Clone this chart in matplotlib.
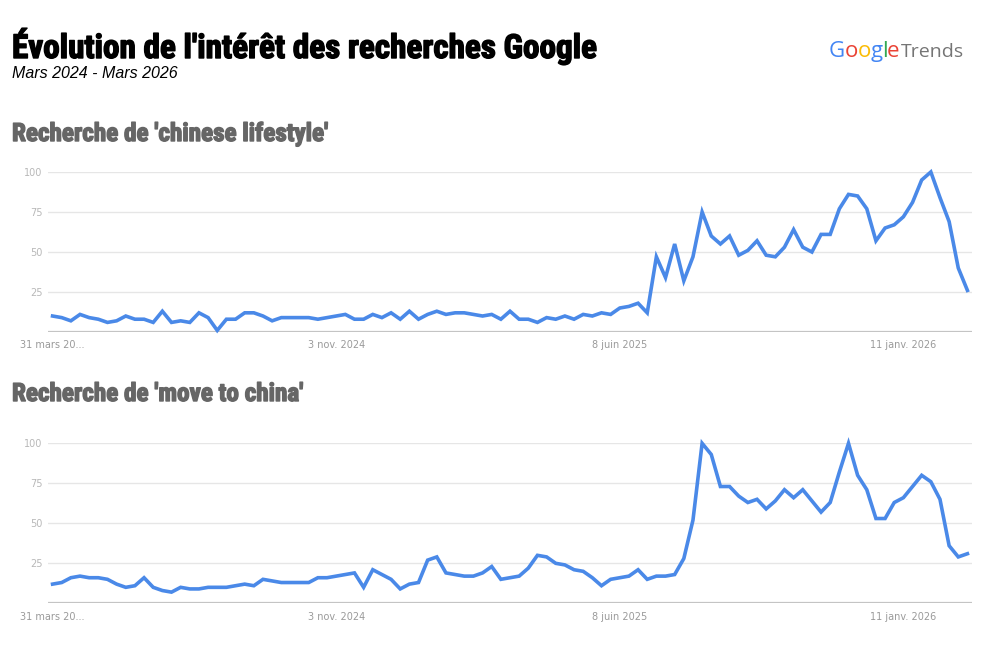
import numpy as np
import matplotlib.pyplot as plt
import matplotlib.patheffects as pe
from matplotlib import font_manager

# weekly values, 31 mars 2024 -> 1 mars 2026
lifestyle = [10, 9, 7, 11, 9, 8, 6, 7, 10, 8, 8, 6, 13, 6, 7, 6, 12, 9, 1, 8,
             8, 12, 12, 10, 7, 9, 9, 9, 9, 8, 9, 10, 11, 8, 8, 11, 9, 12, 8, 13,
             8, 11, 13, 11, 12, 12, 11, 10, 11, 8, 13, 8, 8, 6, 9, 8, 10, 8, 11, 10,
             12, 11, 15, 16, 18, 12, 47, 34, 55, 32, 47, 75, 60, 55, 60, 48, 51, 57, 48, 47,
             53, 64, 53, 50, 61, 61, 77, 86, 85, 77, 57, 65, 67, 72, 81, 95, 100, 84, 69, 40,
             26]
move_china = [12, 13, 16, 17, 16, 16, 15, 12, 10, 11, 16, 10, 8, 7, 10, 9, 9, 10, 10, 10,
              11, 12, 11, 15, 14, 13, 13, 13, 13, 16, 16, 17, 18, 19, 10, 21, 18, 15, 9, 12,
              13, 27, 29, 19, 18, 17, 17, 19, 23, 15, 16, 17, 22, 30, 29, 25, 24, 21, 20, 16,
              11, 15, 16, 17, 21, 15, 17, 17, 18, 28, 52, 100, 93, 73, 73, 67, 63, 65, 59, 64,
              71, 66, 71, 64, 57, 63, 82, 100, 80, 71, 53, 53, 63, 66, 73, 80, 76, 65, 36, 29,
              31]
tick_pos = [0, 31, 62, 93]
tick_labels = ["31 mars 20...", "3 nov. 2024", "8 juin 2025", "11 janv. 2026"]
y_ticks = [25, 50, 75, 100]

line_color = "#4a89e8"

# pick a condensed family if one is around
names = {f.name for f in font_manager.fontManager.ttflist}
cond = [n for n in ["Roboto Condensed", "DejaVu Sans Condensed",
                    "Liberation Sans Narrow", "Open Sans Condensed"] if n in names]


def heavy(col):
    return [pe.withStroke(linewidth=1.0, foreground=col)]


def draw_panel(ax, values):
    x = np.arange(len(values))
    for v in y_ticks:
        ax.axhline(v, color="#e6e6e6", lw=1, zorder=1)
    ax.axhline(0, color="#c4c4c4", lw=1.6, zorder=1)
    ax.plot(x, values, color=line_color, lw=2.6, solid_joinstyle="miter",
            zorder=3, clip_on=False)
    ax.set_xlim(-0.5, len(values) - 0.5)
    ax.set_ylim(0, 100)
    for s in ax.spines.values():
        s.set_visible(False)
    ax.set_yticks(y_ticks)
    ax.set_yticklabels([str(v) for v in y_ticks], color="#b8b8b8", fontsize=7)
    ax.set_xticks(tick_pos)
    ax.set_xticklabels(tick_labels, color="#9a9a9a", fontsize=7)
    ax.tick_params(length=0, pad=4)
    ax.tick_params(axis="x", pad=6)


fig = plt.figure(figsize=(10, 6.5), dpi=100)

ax1 = fig.add_axes([0.048, 0.4892, 0.924, 0.2462])
draw_panel(ax1, lifestyle)
ax2 = fig.add_axes([0.048, 0.0718, 0.924, 0.2462])
draw_panel(ax2, move_china)

if cond:
    title_font = dict(family=[cond[0], "DejaVu Sans"], weight="bold")
    big, mid = 23.9, 18.1
else:
    title_font = dict(family=["DejaVu Sans"], weight="bold")
    big, mid = 16.8, 12.5
fig.text(0.012, 1 - 58 / 650, "Évolution de l'intérêt des recherches Google",
         fontsize=big, color="black", va="baseline", path_effects=heavy("black"),
         **title_font)
fig.text(0.012, 1 - 78 / 650, "Mars 2024 - Mars 2026", fontsize=11.5,
         style="italic", color="black", va="baseline",
         family=["Liberation Sans", "DejaVu Sans"])
fig.text(0.012, 1 - 141 / 650, "Recherche de 'chinese lifestyle'", fontsize=mid,
         color="#666666", va="baseline", path_effects=heavy("#666666"), **title_font)
fig.text(0.012, 1 - 401 / 650, "Recherche de 'move to china'", fontsize=mid,
         color="#666666", va="baseline", path_effects=heavy("#666666"), **title_font)

# Google Trends logo, one coloured piece after another
logo = [("G", "#4285F4", 16), ("o", "#EA4335", 16), ("o", "#FBBC05", 16),
        ("g", "#4285F4", 16), ("l", "#34A853", 16), ("e", "#EA4335", 16),
        ("Trends", "#757575", 14)]
fig.canvas.draw()
renderer = fig.canvas.get_renderer()
x_px = 829
for piece, col, size in logo:
    if piece == "Trends":
        x_px += 2
    t = fig.text(x_px / 1000, 1 - 57 / 650, piece, color=col, fontsize=size,
                 family=["Open Sans", "DejaVu Sans"], va="baseline")
    x_px = t.get_window_extent(renderer).x1 - 0.5

fig.savefig("out.png", dpi=100)
